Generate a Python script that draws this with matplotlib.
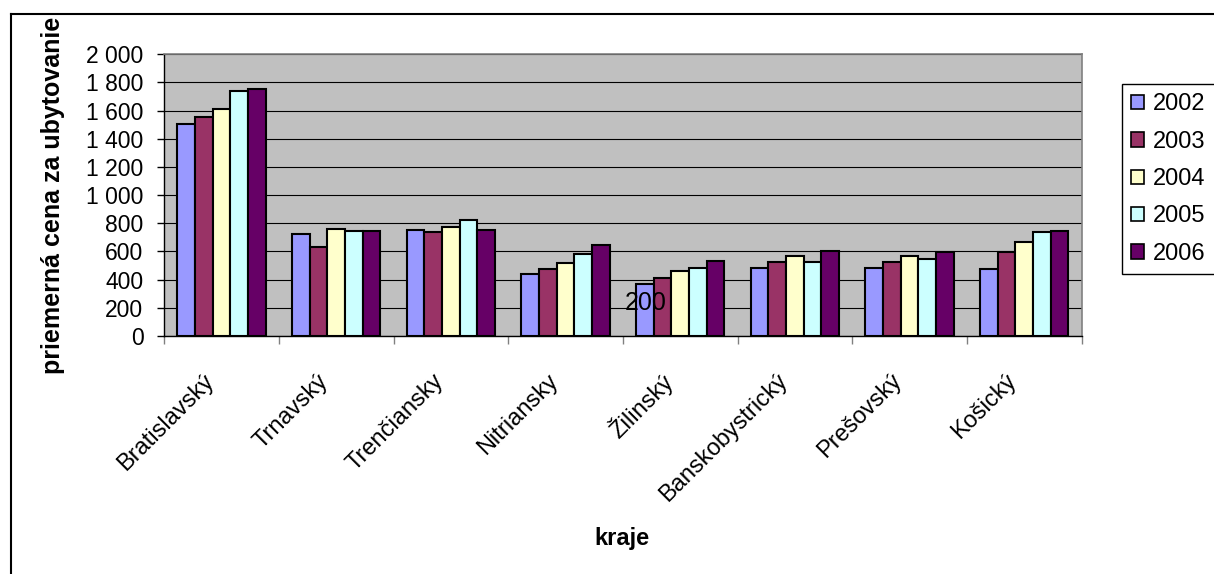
# -*- coding: utf-8 -*-
# Priemerná cena za ubytovanie podľa krajov, 2002–2006

import numpy as np
import matplotlib
matplotlib.use("Agg")
import matplotlib.pyplot as plt
import matplotlib.patches as mpatches
from matplotlib.lines import Line2D
from matplotlib.ticker import FuncFormatter, FixedLocator
from matplotlib.transforms import ScaledTranslation

plt.rcParams["font.family"] = ["Liberation Sans", "DejaVu Sans"]

# ── dáta ─────────────────────────────────────────────────────────────────────
kraje = ["Bratislavský", "Trnavský", "Trenčiansky", "Nitriansky",
         "Žilinský", "Banskobystrický", "Prešovský", "Košický"]
roky = ["2002", "2003", "2004", "2005", "2006"]

cena_2002 = [1502, 721, 751, 443, 367, 486, 481, 476]
cena_2003 = [1552, 633, 739, 479, 415, 526, 526, 593]
cena_2004 = [1611, 760, 775, 519, 458, 566, 569, 664]
cena_2005 = [1739, 746, 822, 581, 481, 524, 547, 739]
cena_2006 = [1755, 742, 756, 645, 533, 602, 597, 749]
ceny = [cena_2002, cena_2003, cena_2004, cena_2005, cena_2006]

FARBY = ["#9999FF", "#993366", "#FFFFCC", "#CCFFFF", "#660066"]
SIVA = "#C0C0C0"
FS = 17

# ── graf ─────────────────────────────────────────────────────────────────────
fig = plt.figure(figsize=(12.14, 5.74), dpi=100)
fig.patch.set_facecolor("white")
ax = fig.add_axes([164.3 / 1214, 1 - 336 / 574, 917.2 / 1214, 281.7 / 574])
ax.set_facecolor(SIVA)

x = np.arange(len(kraje))
w = 0.154
for i, (rok, vals) in enumerate(zip(roky, ceny)):
    ax.bar(x + (i - 2) * w, vals, width=w, color=FARBY[i], edgecolor="black",
           linewidth=1.5, label=rok, zorder=3)

ax.set_xlim(-0.5, len(kraje) - 0.5)
ax.set_ylim(0, 2000)
ax.set_yticks(np.arange(0, 2001, 200))
ax.yaxis.set_major_formatter(FuncFormatter(lambda v, _: f"{v:,.0f}".replace(",", " ")))
ax.grid(axis="y", color="black", linewidth=0.8, zorder=1)
ax.set_axisbelow(True)

for s in ["left", "bottom"]:
    ax.spines[s].set_color("black")
    ax.spines[s].set_linewidth(1.0)
for s in ["top", "right"]:
    ax.spines[s].set_color("#808080")
    ax.spines[s].set_linewidth(1.2)

ax.tick_params(axis="y", labelsize=16.5, length=5, width=1, pad=10, direction="out")

# popisy krajov na stredoch, značky na hraniciach kategórií
ax.set_xticks(x)
ax.set_xticklabels(kraje, rotation=45, ha="right", va="center",
                   rotation_mode="anchor", fontsize=FS)
ax.tick_params(axis="x", which="major", length=0, pad=30)
ax.xaxis.set_minor_locator(FixedLocator(np.arange(-0.5, len(kraje), 1.0)))
ax.tick_params(axis="x", which="minor", length=6, width=1, color="#808080")
posun = ScaledTranslation(-11 / 100, 0, fig.dpi_scale_trans)
for lbl in ax.get_xticklabels():
    lbl.set_transform(lbl.get_transform() + posun)

ax.text(3.70, 232, "200", ha="center", va="center", fontsize=18, zorder=5)

fig.text(53 / 1214, 0.5 * ((1 - 336 / 574) + (1 - 54.3 / 574)),
         "priemerná cena za ubytovanie", rotation=90, ha="center", va="center",
         fontsize=18, fontweight="bold")
fig.text(622 / 1214, 1 - 538 / 574, "kraje", ha="center", va="center",
         fontsize=FS, fontweight="bold")

# legenda
handles = [mpatches.Patch(facecolor=c, edgecolor="black", linewidth=1.2, label=r)
           for c, r in zip(FARBY, roky)]
leg = fig.legend(handles=handles, loc="upper left",
                 bbox_to_anchor=(1122 / 1214, 1 - 84 / 574), fontsize=FS,
                 frameon=True, fancybox=False, shadow=False, borderaxespad=0,
                 handlelength=0.55, handleheight=0.55, handletextpad=0.35,
                 labelspacing=0.65, borderpad=0.4)
leg.get_frame().set_edgecolor("black")
leg.get_frame().set_linewidth(1.0)
leg.get_frame().set_alpha(1)

# rám okolo celého grafu
fig.add_artist(Line2D([10.5 / 1214, 1.0], [1 - 13.5 / 574] * 2,
                      transform=fig.transFigure, color="black", linewidth=1.5))
fig.add_artist(Line2D([10.5 / 1214] * 2, [0, 1 - 13.5 / 574],
                      transform=fig.transFigure, color="black", linewidth=1.5))

fig.savefig("out.png", dpi=100, facecolor="white")
plt.close(fig)
